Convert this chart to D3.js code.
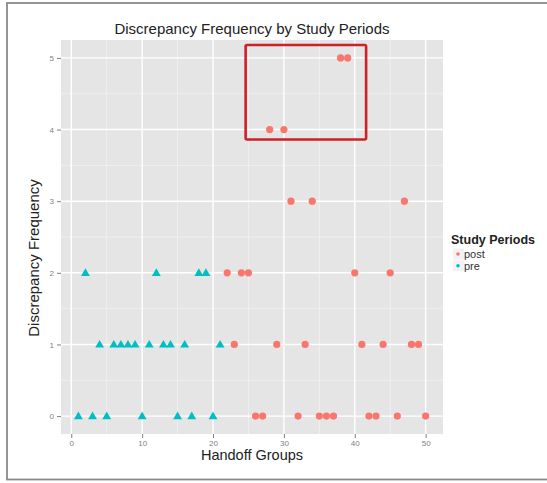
<!DOCTYPE html>
<html>
<head>
<meta charset="utf-8">
<script src="https://cdn.jsdelivr.net/npm/d3@7"></script>
<style>
  body { margin: 0; background: #fff; }
  text { font-family: "Liberation Sans", Arial, sans-serif; }
</style>
</head>
<body>
<svg id="chart" width="547" height="483"></svg>
<script>
// handoff group -> discrepancy frequency, by study period
let preGroups  = [1, 3, 5, 10, 15, 17, 20, 4, 6, 7, 8, 9, 11, 13, 14, 16, 21, 2, 12, 18, 19];
let preFreq    = [0, 0, 0, 0, 0, 0, 0, 1, 1, 1, 1, 1, 1, 1, 1, 1, 1, 2, 2, 2, 2];
let postGroups = [26, 27, 32, 35, 36, 37, 42, 43, 46, 50, 23, 29, 33, 41, 44, 48, 49, 22, 24, 25, 40, 45, 31, 34, 47, 28, 30, 38, 39];
let postFreq   = [0, 0, 0, 0, 0, 0, 0, 0, 0, 0, 1, 1, 1, 1, 1, 1, 1, 2, 2, 2, 2, 2, 3, 3, 3, 4, 4, 5, 5];

let xTicks = [0, 10, 20, 30, 40, 50];
let yTicks = [0, 1, 2, 3, 4, 5];
let periods = ["post", "pre"];
// highlighted region (data coords)
let boxX = [24.6, 41.6];
let boxY = [3.86, 5.18];

let color = d3.scaleOrdinal().domain(periods).range(["#F8766D", "#00BFC4"]);

let svg = d3.select("#chart");

// outer frame
svg.append("rect")
    .attr("x", 7).attr("y", 3)
    .attr("width", 600).attr("height", 476.5)
    .attr("fill", "none")
    .attr("stroke", "#8a8a8a")
    .attr("stroke-width", 1.8);

let x = d3.scaleLinear().domain([-1.45, 52.45]).range([61, 443]);
let y = d3.scaleLinear().domain([-0.25, 5.25]).range([434, 40]);

// panel
svg.append("rect")
    .attr("x", x(-1.45)).attr("y", y(5.25))
    .attr("width", x(52.45) - x(-1.45))
    .attr("height", y(-0.25) - y(5.25))
    .attr("fill", "#E5E5E5");

let grid = svg.append("g");
// minor grid
grid.selectAll(".mx").data(d3.range(5, 55, 10)).enter().append("line")
    .attr("x1", d => x(d)).attr("x2", d => x(d))
    .attr("y1", y(5.25)).attr("y2", y(-0.25))
    .attr("stroke", "#F2F2F2").attr("stroke-width", 0.8);
grid.selectAll(".my").data(d3.range(0.5, 5.5, 1)).enter().append("line")
    .attr("y1", d => y(d)).attr("y2", d => y(d))
    .attr("x1", x(-1.45)).attr("x2", x(52.45))
    .attr("stroke", "#F2F2F2").attr("stroke-width", 0.8);
// major grid
grid.selectAll(".Mx").data(xTicks).enter().append("line")
    .attr("x1", d => x(d)).attr("x2", d => x(d))
    .attr("y1", y(5.25)).attr("y2", y(-0.25))
    .attr("stroke", "#fff").attr("stroke-width", 1.4);
grid.selectAll(".My").data(yTicks).enter().append("line")
    .attr("y1", d => y(d)).attr("y2", d => y(d))
    .attr("x1", x(-1.45)).attr("x2", x(52.45))
    .attr("stroke", "#fff").attr("stroke-width", 1.4);

// axes
let xAxis = svg.append("g")
    .attr("transform", "translate(0," + y(-0.25) + ")")
    .call(d3.axisBottom(x).tickValues(xTicks).tickFormat(d3.format("d")).tickSize(4).tickPadding(2));
let yAxis = svg.append("g")
    .attr("transform", "translate(" + x(-1.45) + ",0)")
    .call(d3.axisLeft(y).tickValues(yTicks).tickFormat(d3.format("d")).tickSize(4).tickPadding(3));
[xAxis, yAxis].forEach(a => {
  a.select(".domain").remove();
  a.selectAll(".tick line").attr("stroke", "#7f7f7f");
  a.selectAll(".tick text").attr("fill", "#7f7f7f").style("font-size", "8px");
});

// points
let pre = preGroups.map((g, i) => ({g: g, f: preFreq[i]}));
let post = postGroups.map((g, i) => ({g: g, f: postFreq[i]}));

svg.append("g").selectAll("circle").data(post).enter().append("circle")
    .attr("cx", d => x(d.g)).attr("cy", d => y(d.f))
    .attr("r", 3.6)
    .attr("fill", color("post"));

let tri = d3.symbol().type(d3.symbolTriangle).size(34);
svg.append("g").selectAll("path").data(pre).enter().append("path")
    .attr("d", tri)
    .attr("transform", d => "translate(" + x(d.g) + "," + (y(d.f) + 0.6) + ")")
    .attr("fill", color("pre"));

// highlight box
svg.append("rect")
    .attr("x", x(boxX[0])).attr("y", y(boxY[1]))
    .attr("width", x(boxX[1]) - x(boxX[0]))
    .attr("height", y(boxY[0]) - y(boxY[1]))
    .attr("rx", 1.5)
    .attr("fill", "none")
    .attr("stroke", "#CC2127")
    .attr("stroke-width", 2.6);

// titles
svg.append("text")
    .attr("x", (x(-1.45) + x(52.45)) / 2).attr("y", 34)
    .attr("text-anchor", "middle")
    .style("font-size", "15px").attr("fill", "#222")
    .text("Discrepancy Frequency by Study Periods");

svg.append("text")
    .attr("x", (x(-1.45) + x(52.45)) / 2).attr("y", 460)
    .attr("text-anchor", "middle")
    .style("font-size", "14.5px").attr("fill", "#222")
    .text("Handoff Groups");

svg.append("text")
    .attr("transform", "translate(39,258) rotate(-90)")
    .attr("text-anchor", "middle")
    .style("font-size", "15px").attr("fill", "#222")
    .text("Discrepancy Frequency");

// legend
let legend = svg.append("g").attr("transform", "translate(451,0)");
legend.append("text")
    .attr("x", 0).attr("y", 244)
    .style("font-size", "12.5px").style("font-weight", "bold").attr("fill", "#222")
    .text("Study Periods");
let item = legend.selectAll(".item").data(periods).enter().append("g")
    .attr("transform", (d, i) => "translate(0," + (254 + i * 11.7) + ")");
item.append("rect")
    .attr("x", 2).attr("y", -5.5).attr("width", 11).attr("height", 11)
    .attr("fill", "#F2F2F2");
item.append("circle")
    .attr("cx", 7).attr("cy", 0).attr("r", 1.8)
    .attr("fill", d => color(d));
item.append("text")
    .attr("x", 13).attr("y", 4)
    .style("font-size", "11px").attr("fill", "#333")
    .text(d => d);
</script>
</body>
</html>
